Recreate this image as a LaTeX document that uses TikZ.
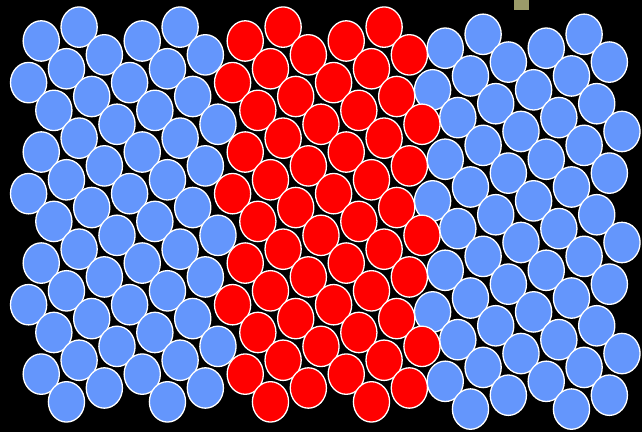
\documentclass[tikz,border=0pt]{standalone}
\usetikzlibrary{calc}

\definecolor{discblue}{RGB}{100,150,252}
\definecolor{discred}{RGB}{255,0,0}
\definecolor{markolive}{RGB}{155,155,105}

\begin{document}
\begin{tikzpicture}[
  x=1pt, y=-1pt,
  disc/.style={
    draw=white,
    line width=1.3pt
  },
  outerdisc/.style={disc, fill=discblue},
  innerdisc/.style={disc, fill=discred},
  mark/.style={fill=markolive}
]

\fill[black] (0,0) rectangle (642,432);
\useasboundingbox (0,0) rectangle (642,432);

% one row of six discs: two blue, two red, two blue (shifted down)
\foreach \k in {0,...,27} {
  \pgfmathsetmacro{\xs}{Mod(79.1-37.875*\k,101)}
  \pgfmathsetmacro{\xs}{\xs<25 ? \xs+101 : \xs}
  \pgfmathsetmacro{\yr}{27.1+13.88*\k}
  \foreach \m/\kind/\dx/\dy in {0/outerdisc/0/0, 1/outerdisc/0/0,
                                2/innerdisc/2/0, 3/innerdisc/2/0,
                                4/outerdisc/0/7.2, 5/outerdisc/0/7.2} {
    \path[\kind] ({\xs+101*\m+\dx},{\yr+\dy})
      ellipse [x radius=18.1, y radius=20.2];
  }
}

\fill[markolive] (514,0) rectangle (529,10);

\end{tikzpicture}
\end{document}
